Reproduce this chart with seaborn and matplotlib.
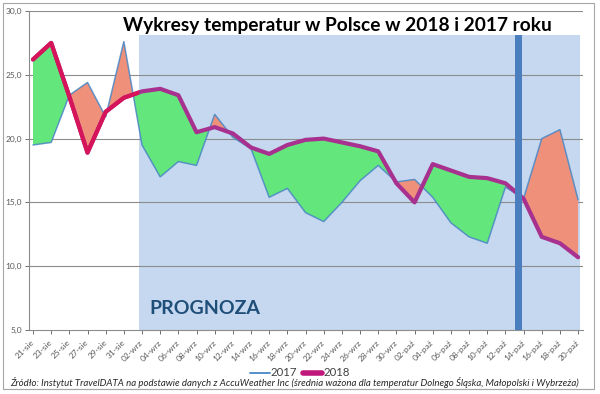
import numpy as np
import pandas as pd
import matplotlib
matplotlib.use("Agg")
import matplotlib.pyplot as plt
import seaborn as sns
from matplotlib.patches import Rectangle
from matplotlib.lines import Line2D

# --- data (every second day) ---
labels = ["21-sie", "23-sie", "25-sie", "27-sie", "29-sie", "31-sie",
          "02-wrz", "04-wrz", "06-wrz", "08-wrz", "10-wrz", "12-wrz", "14-wrz",
          "16-wrz", "18-wrz", "20-wrz", "22-wrz", "24-wrz", "26-wrz", "28-wrz",
          "30-wrz", "02-paź", "04-paź", "06-paź", "08-paź", "10-paź", "12-paź",
          "14-paź", "16-paź", "18-paź", "20-paź"]
t2017 = [19.5, 19.7, 23.4, 24.4, 21.7, 27.6, 19.5, 17.0, 18.2, 17.9, 21.9,
         20.1, 19.2, 15.4, 16.1, 14.2, 13.5, 15.0, 16.7, 17.9, 16.6, 16.8,
         15.4, 13.4, 12.3, 11.8, 16.2, 15.3, 20.0, 20.7, 15.2]
t2018 = [26.2, 27.5, 23.3, 18.9, 22.1, 23.2, 23.7, 23.9, 23.4, 20.5, 20.9,
         20.4, 19.3, 18.8, 19.5, 19.9, 20.0, 19.7, 19.4, 19.0, 16.5, 15.0,
         18.0, 17.5, 17.0, 16.9, 16.5, 15.3, 12.3, 11.8, 10.7]
forecast_from = 5.83   # start of the "PROGNOZA" band (category units)
today = 26.72          # vertical marker

df = pd.DataFrame({"x": np.arange(len(labels)), "t2017": t2017, "t2018": t2018})

sns.set_style("white")
plt.rcParams["font.family"] = ["Lato", "DejaVu Sans"]

fig = plt.figure(figsize=(6, 3.94), dpi=100)
ax = fig.add_axes([29 / 600, 1 - 330 / 394, 554 / 600, 319 / 394])

x = df["x"].values
a = df["t2017"].values
b = df["t2018"].values

# forecast band
ax.axvspan(forecast_from, 30.1, ymin=0, ymax=(28.1 - 5) / 25, color="#c5d8ef", lw=0, zorder=0)

# gridlines
for g in [10, 15, 20, 25, 30]:
    ax.axhline(g, color="#8c8c8c", lw=0.8, zorder=1)

# difference fills
ax.fill_between(x, a, b, where=b >= a, interpolate=True, color="#63e77c", lw=0, zorder=2)
ax.fill_between(x, a, b, where=b < a, interpolate=True, color="#ef917a", lw=0, zorder=2)

# lines
sns.lineplot(data=df, x="x", y="t2017", ax=ax, color="#4a86c5", lw=1.1, alpha=0.85, zorder=3)
sns.lineplot(data=df, x="x", y="t2018", ax=ax, color="#a8318f", lw=3.0, zorder=4)
sns.lineplot(data=df, x="x", y="t2018", ax=ax, color="#d5145a", lw=3.0, zorder=4)
ax.lines[-1].set_clip_path(Rectangle((-1, 0), forecast_from + 1, 40, transform=ax.transData))

# today marker
ax.axvspan(today - 0.19, today + 0.19, ymin=0, ymax=(28.1 - 5) / 25, color="#4a7ebf", lw=0, zorder=6)

ax.set_xlim(-0.22, 30.27)
ax.set_ylim(5, 30)
ax.set_xlabel("")
ax.set_ylabel("")

ax.set_yticks([5, 10, 15, 20, 25, 30])
ax.set_yticklabels(["5,0", "10,0", "15,0", "20,0", "25,0", "30,0"])
ax.set_xticks(x)
ax.set_xticklabels(labels, rotation=45, ha="right", va="center", rotation_mode="anchor")
ax.tick_params(axis="y", labelsize=6, colors="#595959", length=3, width=0.6, direction="out", pad=2, left=True)
ax.tick_params(axis="x", labelsize=6, colors="#595959", length=3, width=0.6, direction="out", pad=5, bottom=True)

for side in ["top", "right"]:
    ax.spines[side].set_visible(False)
for side in ["left", "bottom"]:
    ax.spines[side].set_color("#8c8c8c")
    ax.spines[side].set_linewidth(0.8)

ax.text(0.557, 0.955, "Wykresy temperatur w Polsce w 2018 i 2017 roku", transform=ax.transAxes,
        ha="center", va="center", fontsize=13.8, fontweight="bold", color="black", zorder=7)
ax.text(6.4, 6.7, "PROGNOZA", ha="left", va="center", fontsize=14, fontweight="bold",
        color="#1f4e79", zorder=7)

# legend
handles = [Line2D([], [], color="#4a86c5", lw=1.3), Line2D([], [], color="#c0187a", lw=4)]
fig.legend(handles, ["2017", "2018"], loc="center", bbox_to_anchor=(300 / 600, 1 - 373 / 394),
           ncol=2, frameon=False, fontsize=8.2, handlelength=1.7, handletextpad=0.1,
           columnspacing=0.5, labelcolor="#404040")

# source note
fig.text(10 / 600, 1 - 383 / 394,
         "Źródło: Instytut TravelDATA na podstawie danych z AccuWeather Inc (średnia ważona dla "
         "temperatur Dolnego Śląska, Małopolski i Wybrzeża)",
         ha="left", va="center", fontsize=6.95, style="italic", color="#262626")
fig.add_artist(Line2D([3 / 600, 594 / 600], [1 - 389 / 394] * 2, color="#a6a6a6", lw=0.8))

# outer chart frame
fig.add_artist(Rectangle((3 / 600, 1 - 389 / 394), 591 / 600, 386 / 394, transform=fig.transFigure,
                         fill=False, edgecolor="#a6a6a6", lw=0.8))

fig.savefig("out.png", dpi=100)
